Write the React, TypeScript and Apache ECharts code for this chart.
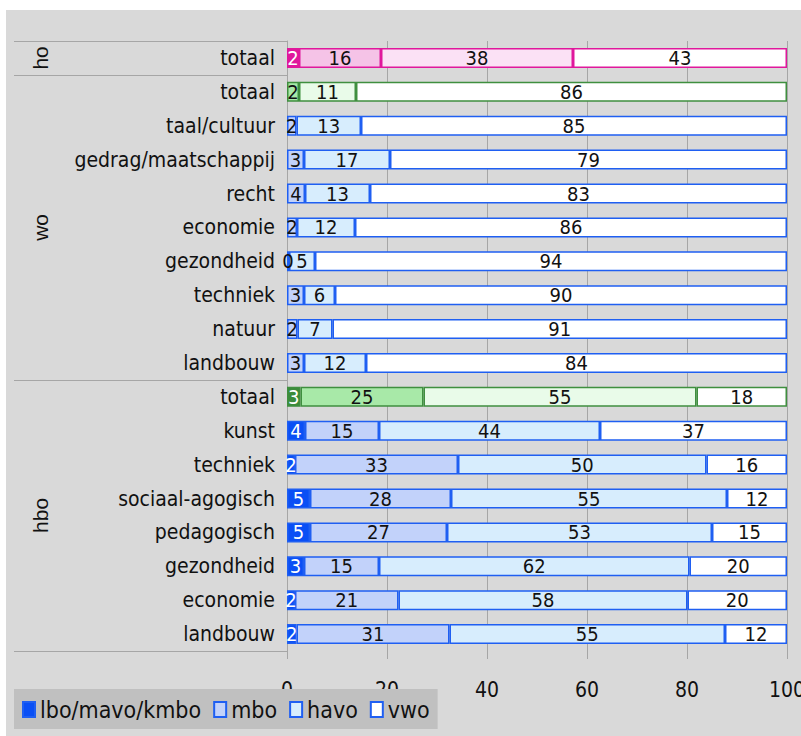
import React, { useEffect, useRef } from 'react';
import * as echarts from 'echarts';

const categories = [
  'totaal',
  'totaal', 'taal/cultuur', 'gedrag/maatschappij', 'recht', 'economie', 'gezondheid', 'techniek', 'natuur', 'landbouw',
  'totaal', 'kunst', 'techniek', 'sociaal-agogisch', 'pedagogisch', 'gezondheid', 'economie', 'landbouw',
];
const groups = ['ho', 'wo', 'hbo'];
const groupSizes = [1, 9, 8];
const rowPalette = [
  'pink',
  'green', 'blue', 'blue', 'blue', 'blue', 'blue', 'blue', 'blue', 'blue',
  'green', 'blue', 'blue', 'blue', 'blue', 'blue', 'blue', 'blue',
];
const seriesNames = ['lbo/mavo/kmbo', 'mbo', 'havo', 'vwo'];
const lbo = [2.4, null, null, null, null, null, null, null, null, null, 2.7, 3.6, 1.6, 4.6, 4.6, 3.4, 1.6, 1.9];
const mbo = [16.4, 2.4, 1.9, 3.4, 3.6, 2.0, 0.4, 3.4, 2.1, 3.4, 24.6, 14.8, 32.6, 28.2, 27.4, 15.0, 20.7, 30.6];
const havo = [38.4, 11.4, 12.9, 17.2, 13.0, 11.6, 5.2, 6.2, 7.0, 12.4, 54.6, 44.2, 49.7, 55.2, 53.0, 62.1, 57.8, 55.1];
const vwo = [42.8, 86.2, 85.2, 79.4, 83.4, 86.4, 94.4, 90.4, 90.9, 84.2, 18.1, 37.4, 16.1, 12.0, 15.0, 19.5, 19.9, 12.4];

const palettes: Record<string, { fills: string[]; border: string }> = {
  pink: { fills: ['#e0189c', '#f5c3e7', '#fbe1f5', '#ffffff'], border: '#e0189c' },
  green: { fills: ['#3b8b3b', '#a8e9a8', '#e9fbe9', '#ffffff'], border: '#3f8f3f' },
  blue: { fills: ['#0a4ff5', '#c2d2fa', '#d7edfd', '#ffffff'], border: '#1f5ff2' },
};

const NARROW = "'Liberation Sans Narrow', 'DejaVu Sans Condensed', 'Roboto', sans-serif";
const REGULAR = "'Liberation Sans', Arial, sans-serif";

export default function App() {
  const ref = useRef<HTMLDivElement>(null);
  useEffect(() => {
    if (!ref.current) return;
    const chart = echarts.init(ref.current, null, { renderer: 'svg' });
    const seriesData = [lbo, mbo, havo, vwo];
    const series = seriesData.map((arr, k) => ({
      name: seriesNames[k],
      type: 'bar',
      stack: 'all',
      barWidth: 20,
      itemStyle: {
        color: palettes.blue.fills[k],
        borderColor: palettes.blue.border,
        borderWidth: 1.5,
      },
      label: {
        show: true,
        position: 'inside',
        fontSize: 20,
        fontFamily: NARROW,
        color: k === 0 ? '#ffffff' : '#111111',
        formatter: (p: any) => String(Math.round(Number(p.value))),
      },
      data: arr.map((v, i) =>
        v == null
          ? '-'
          : {
              value: v,
              itemStyle: {
                color: palettes[rowPalette[i]].fills[k],
                borderColor: palettes[rowPalette[i]].border,
                borderWidth: 1.5,
              },
            }
      ),
    }));

    chart.setOption({
      animation: false,
      grid: { left: 281, right: 14, top: 31, bottom: 85, outerBoundsMode: 'none', containLabel: false },
      xAxis: {
        type: 'value',
        min: 0,
        max: 100,
        interval: 20,
        axisLine: { show: false },
        axisTick: { show: true, length: 8, lineStyle: { color: '#a6a6a6' } },
        splitLine: { show: true, lineStyle: { color: '#a6a6a6', width: 1 } },
        axisLabel: { fontSize: 21, fontFamily: NARROW, color: '#111111', margin: 28 },
      },
      yAxis: {
        type: 'category',
        data: categories,
        inverse: true,
        axisLine: { show: true, lineStyle: { color: '#a6a6a6' } },
        axisTick: { show: false },
        axisLabel: { fontSize: 21, fontFamily: NARROW, color: '#111111', margin: 12 },
      },
      legend: {
        data: seriesNames,
        left: 8,
        top: 679,
        backgroundColor: '#c0c0c0',
        padding: [9, 8, 8, 8],
        itemWidth: 12,
        itemHeight: 15,
        itemGap: 12,
        icon: 'rect',
        textStyle: { fontSize: 23, fontFamily: NARROW, color: '#111111' },
      },
      series,
    });

    const p0 = chart.convertToPixel({ yAxisIndex: 0 }, 0) as number;
    const p1 = chart.convertToPixel({ yAxisIndex: 0 }, 1) as number;
    const band = p1 - p0;
    const axisX = chart.convertToPixel({ xAxisIndex: 0 }, 0) as number;
    const graphics: any[] = [];
    let start = 0;
    const boundaries = [p0 - band / 2];
    groups.forEach((g, gi) => {
      const end = start + groupSizes[gi] - 1;
      const yStart = (chart.convertToPixel({ yAxisIndex: 0 }, start) as number) - band / 2;
      const yEnd = (chart.convertToPixel({ yAxisIndex: 0 }, end) as number) + band / 2;
      boundaries.push(yEnd);
      graphics.push({
        type: 'text',
        x: 34,
        y: (yStart + yEnd) / 2,
        rotation: Math.PI / 2,
        style: {
          text: g,
          fontSize: 21,
          fontFamily: REGULAR,
          fill: '#111111',
          align: 'center',
          verticalAlign: 'middle',
        },
      });
      start = end + 1;
    });
    boundaries.forEach((y) => {
      graphics.push({
        type: 'line',
        shape: { x1: 8, y1: Math.round(y) + 0.5, x2: axisX, y2: Math.round(y) + 0.5 },
        style: { stroke: '#a6a6a6', lineWidth: 1 },
      });
    });
    chart.setOption({ graphic: graphics });

    return () => chart.dispose();
  }, []);

  return (
    <div style={{ position: 'absolute', left: 0, top: 0, width: 801, height: 736, background: '#ffffff' }}>
      <div
        ref={ref}
        style={{ position: 'absolute', left: 6, top: 10, width: 795, height: 726, background: '#d9d9d9' }}
      />
    </div>
  );
}
